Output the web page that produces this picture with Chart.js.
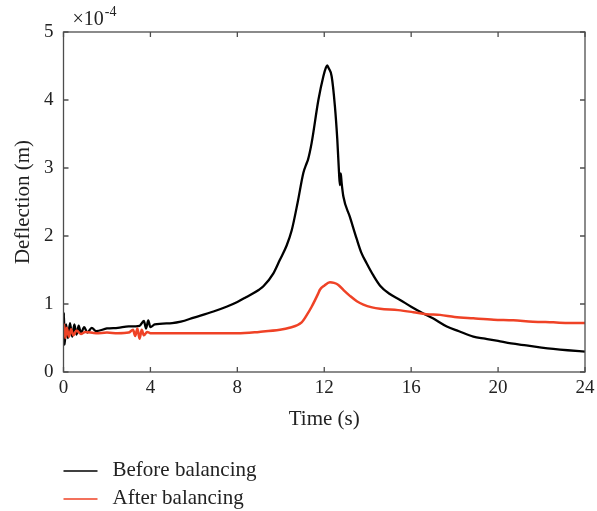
<!DOCTYPE html>
<html>
<head>
<meta charset="utf-8">
<script src="https://cdn.jsdelivr.net/npm/chart.js@4/dist/chart.umd.min.js"></script>
<style>
  html, body { margin: 0; padding: 0; background: #fff; }
  #wrap { width: 597px; height: 511px; position: relative; }
</style>
</head>
<body>
<div id="wrap"><canvas id="c" width="597" height="511"></canvas></div>
<script>
// ---- Data (deflection in units of 1e-4 m) ----
const xTicks = [0, 4, 8, 12, 16, 20, 24];
const yTicks = [0, 1, 2, 3, 4, 5];
const seriesNames = ["Before balancing", "After balancing"];
const yExponentLabel = "\u00d710";
const yExponent = "-4";

const beforeTime = [0, 0.02, 0.05, 0.12, 0.2, 0.3, 0.4, 0.5, 0.6, 0.7, 0.8, 0.95, 1.1, 1.3, 1.5, 2.0, 2.5, 3.0, 3.5, 3.7, 3.8, 3.9, 4.0, 4.2, 5.0, 5.4, 6.0, 6.9, 7.5, 8.0, 8.4, 9.0, 9.2, 9.66, 9.96, 10.27, 10.5, 10.78, 11.04, 11.19, 11.25, 11.42, 11.73, 11.96, 12.08, 12.14, 12.2, 12.34, 12.49, 12.6, 12.68, 12.72, 12.76, 12.8, 12.88, 13.18, 13.49, 13.7, 13.95, 14.26, 14.57, 15.0, 15.49, 16.0, 16.56, 17.0, 17.64, 18.2, 18.86, 19.4, 20.0, 20.6, 21.3, 22.0, 22.54, 23.2, 24];
const beforeValue = [0.62, 0.87, 0.40, 0.70, 0.50, 0.72, 0.52, 0.70, 0.55, 0.68, 0.57, 0.66, 0.58, 0.65, 0.60, 0.64, 0.65, 0.67, 0.68, 0.75, 0.64, 0.76, 0.66, 0.70, 0.72, 0.74, 0.80, 0.89, 0.96, 1.03, 1.10, 1.21, 1.26, 1.45, 1.65, 1.86, 2.08, 2.50, 2.93, 3.07, 3.12, 3.37, 4.00, 4.35, 4.48, 4.51, 4.47, 4.35, 3.91, 3.42, 2.93, 2.75, 2.92, 2.78, 2.58, 2.28, 1.96, 1.76, 1.60, 1.42, 1.27, 1.15, 1.06, 0.96, 0.86, 0.79, 0.67, 0.60, 0.52, 0.49, 0.456, 0.42, 0.39, 0.36, 0.34, 0.32, 0.30];

const afterTime = [0, 0.03, 0.08, 0.15, 0.25, 0.35, 0.45, 0.6, 0.8, 1.0, 1.5, 2.0, 2.5, 3.0, 3.2, 3.3, 3.4, 3.5, 3.6, 3.7, 3.85, 4.0, 5.0, 6.0, 7.0, 8.0, 9.0, 9.96, 10.4, 10.96, 11.2, 11.42, 11.73, 11.8, 12.0, 12.26, 12.45, 12.65, 12.9, 13.18, 13.5, 13.8, 14.2, 14.57, 15.4, 16.1, 16.7, 17.33, 18.0, 18.86, 19.8, 20.7, 21.6, 22.54, 23.3, 24];
const afterValue = [0.58, 0.70, 0.50, 0.65, 0.52, 0.63, 0.54, 0.61, 0.56, 0.59, 0.57, 0.58, 0.57, 0.58, 0.62, 0.53, 0.64, 0.49, 0.62, 0.54, 0.59, 0.57, 0.57, 0.57, 0.57, 0.57, 0.59, 0.62, 0.65, 0.73, 0.84, 0.96, 1.16, 1.21, 1.27, 1.32, 1.31, 1.28, 1.20, 1.12, 1.04, 0.99, 0.95, 0.93, 0.91, 0.88, 0.85, 0.84, 0.81, 0.79, 0.77, 0.76, 0.74, 0.73, 0.72, 0.72];

const seriesColors = ["#000000", "#ef4226"];
const FONT = "'Liberation Serif', 'Times New Roman', serif";
const AXIS = "#4d4d4d";

const toPoints = (xs, ys) => xs.map((x, i) => ({ x: x, y: ys[i] }));

const framePlugin = {
  id: 'frame',
  afterDraw(chart) {
    const { ctx, chartArea: a, scales: { x, y } } = chart;
    ctx.save();
    ctx.strokeStyle = AXIS;
    ctx.lineWidth = 1.3;
    ctx.strokeRect(a.left, a.top, a.right - a.left, a.bottom - a.top);
    const tl = 5;
    ctx.beginPath();
    xTicks.forEach(v => {
      const px = x.getPixelForValue(v);
      ctx.moveTo(px, a.bottom); ctx.lineTo(px, a.bottom - tl);
      ctx.moveTo(px, a.top); ctx.lineTo(px, a.top + tl);
    });
    yTicks.forEach(v => {
      const py = y.getPixelForValue(v);
      ctx.moveTo(a.left, py); ctx.lineTo(a.left + tl, py);
      ctx.moveTo(a.right, py); ctx.lineTo(a.right - tl, py);
    });
    ctx.stroke();

    // exponent label
    ctx.fillStyle = "#222";
    ctx.textBaseline = 'alphabetic';
    ctx.textAlign = 'left';
    ctx.font = "20px " + FONT;
    const ex = a.left + 9, ey = a.top - 7;
    ctx.fillText(yExponentLabel, ex, ey);
    const w = ctx.measureText(yExponentLabel).width;
    ctx.font = "14px " + FONT;
    ctx.fillText(yExponent, ex + w + 1, ey - 9);

    // legend
    ctx.font = "21px " + FONT;
    ctx.textBaseline = 'middle';
    const ly = [a.bottom + 99, a.bottom + 127];
    seriesNames.forEach((name, i) => {
      ctx.strokeStyle = seriesColors[i];
      ctx.lineWidth = 1.3;
      ctx.beginPath();
      ctx.moveTo(a.left, ly[i]);
      ctx.lineTo(a.left + 34, ly[i]);
      ctx.stroke();
      ctx.fillStyle = "#222";
      ctx.fillText(name, a.left + 49, ly[i] - 1);
    });
    ctx.restore();
  }
};

new Chart(document.getElementById('c'), {
  type: 'line',
  data: {
    datasets: [
      { label: seriesNames[0], data: toPoints(beforeTime, beforeValue), borderColor: seriesColors[0], borderWidth: 2.3, pointRadius: 0, cubicInterpolationMode: 'monotone', order: 2 },
      { label: seriesNames[1], data: toPoints(afterTime, afterValue), borderColor: seriesColors[1], borderWidth: 2.5, pointRadius: 0, cubicInterpolationMode: 'monotone', order: 1 }
    ]
  },
  options: {
    responsive: false,
    animation: false,
    devicePixelRatio: 1,
    layout: { padding: { left: 11, right: 12, top: 32, bottom: 79 } },
    plugins: { legend: { display: false }, tooltip: { enabled: false } },
    scales: {
      x: {
        type: 'linear', min: 0, max: 24,
        afterBuildTicks: s => { s.ticks = xTicks.map(v => ({ value: v })); },
        afterFit: s => { s.height = 60; s.paddingRight = 0; s.paddingLeft = 0; },
        grid: { display: false, drawTicks: false },
        border: { display: false },
        ticks: { color: "#222", font: { family: FONT, size: 19 }, padding: 5, maxRotation: 0, autoSkip: false },
        title: { display: true, text: "Time (s)", color: "#222", font: { family: FONT, size: 21 }, padding: { top: 0, bottom: 0 } }
      },
      y: {
        min: 0, max: 5,
        afterBuildTicks: s => { s.ticks = yTicks.map(v => ({ value: v })); },
        afterFit: s => { s.width = 52.5; },
        grid: { display: false, drawTicks: false },
        border: { display: false },
        ticks: { color: "#222", font: { family: FONT, size: 19 }, padding: 10 },
        title: { display: true, text: "Deflection (m)", color: "#222", font: { family: FONT, size: 21 }, padding: { top: 0, bottom: 0 } }
      }
    }
  },
  plugins: [framePlugin]
});
</script>
</body>
</html>
